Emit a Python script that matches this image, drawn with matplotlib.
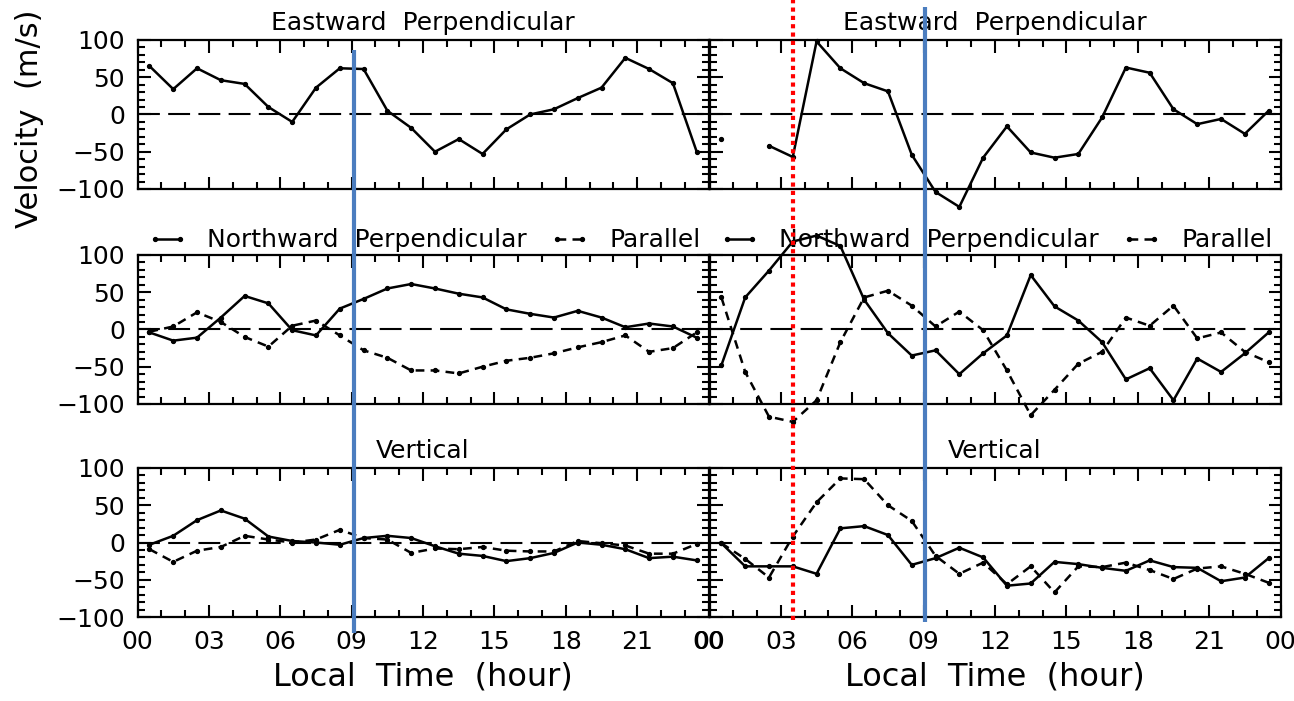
import numpy as np
import matplotlib
matplotlib.use('Agg')
from matplotlib import pyplot as plt, ticker, transforms
from matplotlib.lines import Line2D

plt.rcParams.update({'font.family': 'DejaVu Sans', 'axes.linewidth': 1.6,
                     'axes.titlesize': 18})

# Середини годинних інтервалів, год.
hours = np.arange(0.5, 24, 1.0)
nan = np.nan

# Eastward perpendicular
east_left = [65, 34, 62, 46, 41, 10, -10, 36, 62, 61, 5, -18,
             -50, -33, -53, -20, 0, 7, 22, 36, 76, 61, 42, -50]
east_right = [-33, nan, -42, -57, 98, 62, 42, 31, -54, -104, -124, -58,
              -16, -51, -58, -53, -4, 63, 56, 7, -13, -6, -26, 5]

# Northward perpendicular (solid) and parallel (dashed)
north_left = [-4, -15, -11, 16, 45, 35, -1, -8, 28, 41, 55, 61,
              55, 48, 43, 27, 21, 16, 25, 16, 3, 8, 4, -11]
par_left = [-3, 4, 23, 10, -10, -23, 5, 12, -8, -28, -38, -55,
            -55, -59, -50, -42, -38, -32, -24, -17, -8, -30, -25, -4]
north_right = [-48, 43, 79, 118, 126, 112, 40, -5, -35, -28, -60, -32,
               -8, 73, 31, 12, -17, -67, -52, -95, -39, -57, -32, -4]
par_right = [43, -57, -117, -124, -95, -17, 43, 52, 32, 4, 24, -1,
             -55, -115, -81, -46, -30, 16, 5, 32, -12, -4, -30, -44]

# Vertical (solid and dashed)
vert_left = [-3, 9, 30, 43, 32, 8, 2, 0, -3, 6, 9, 6,
             -5, -15, -18, -25, -21, -14, 0, -3, -9, -21, -19, -24]
vdash_left = [-9, -26, -11, -6, 9, 4, 0, 4, 17, 6, 4, -14,
              -8, -9, -6, -11, -12, -12, 2, -1, -4, -15, -15, -2]
vert_right = [-1, -32, -32, -32, -42, 19, 22, 10, -30, -21, -7, -20,
              -58, -55, -26, -29, -34, -38, -24, -33, -34, -52, -47, -21]
vdash_right = [-1, -22, -47, 8, 54, 86, 85, 50, 29, -18, -42, -27,
               -56, -32, -67, -32, -33, -27, -37, -49, -35, -32, -42, -54]

# Позначки часу: синя лінія (обидві панелі) та червона пунктирна (права)
blue_hours = [9.1, 9.05]
red_hour = 3.5

fig = plt.figure(figsize=(12.94, 7.01), dpi=100)
col_x = [0.1063, 0.5483]
col_w = 0.4413
row_y = [0.7304, 0.4237, 0.1198]
row_h = 0.2126

def style_axes(ax, show_y, show_x):
    ax.set_xlim(0, 24)
    ax.set_ylim(-100, 100)
    ax.set_facecolor('none')
    ax.xaxis.set_major_locator(ticker.MultipleLocator(3))
    ax.xaxis.set_minor_locator(ticker.MultipleLocator(1))
    ax.yaxis.set_major_locator(ticker.MultipleLocator(50))
    ax.yaxis.set_minor_locator(ticker.MultipleLocator(10))
    ax.xaxis.set_major_formatter(ticker.FuncFormatter(lambda v, p: '%02d' % (v % 24)))
    ax.tick_params(which='both', direction='in', top=True, right=True, width=1.5)
    ax.tick_params(which='major', length=9)
    ax.tick_params(which='minor', length=5)
    ax.tick_params(labelsize=18, pad=9, labelleft=show_y, labelbottom=show_x)
    ax.axhline(0, color='k', lw=1.5, dashes=(10.5, 4), zorder=1)

def draw(ax, vals, dashed=False):
    kw = dict(color='k', lw=1.8, marker='o', ms=2.8, clip_on=False)
    if dashed:
        kw['dashes'] = (3.5, 2.5)
    return ax.plot(hours, vals, **kw)[0]

axes = []
for col in range(2):
    ax1 = fig.add_axes([col_x[col], row_y[0], col_w, row_h])
    ax2 = fig.add_axes([col_x[col], row_y[1], col_w, row_h])
    ax3 = fig.add_axes([col_x[col], row_y[2], col_w, row_h])
    for ax, sx in ((ax1, False), (ax2, False), (ax3, True)):
        style_axes(ax, col == 0, sx)
    axes.append((ax1, ax2, ax3))

    draw(ax1, (east_left, east_right)[col])
    ax1.set_title('Eastward  Perpendicular', pad=7)

    h1 = draw(ax2, (north_left, north_right)[col])
    h2 = draw(ax2, (par_left, par_right)[col], dashed=True)
    ax2.legend([h1, h2], ['Northward  Perpendicular', 'Parallel'], ncol=2,
               loc='lower left', bbox_to_anchor=(0.013, 1.0), frameon=False,
               borderaxespad=0.1, borderpad=0, numpoints=2, fontsize=18,
               handlelength=1.6, handletextpad=0.8, columnspacing=0.9)

    draw(ax3, (vert_left, vert_right)[col])
    draw(ax3, (vdash_left, vdash_right)[col], dashed=True)
    ax3.set_title('Vertical', pad=7)
    ax3.set_xlabel('Local  Time  (hour)', fontsize=23, labelpad=6)

fig.text(30 / 1294, 1 - 119 / 701, 'Velocity  (m/s)', rotation=90,
         ha='center', va='center', fontsize=22)

# Вертикальні позначки (в пікселях по висоті фігури)
H = 701.
spans = [(50, 633), (7, 622)]
for col in range(2):
    tr = transforms.blended_transform_factory(axes[col][0].transData, fig.transFigure)
    y0, y1 = spans[col]
    fig.add_artist(Line2D([blue_hours[col]] * 2, [1 - y1 / H, 1 - y0 / H], transform=tr,
                          color='#4B7DBF', lw=3, solid_capstyle='butt', zorder=5))
tr = transforms.blended_transform_factory(axes[1][0].transData, fig.transFigure)
fig.add_artist(Line2D([red_hour] * 2, [1 - 620 / H, 1.0], transform=tr, color='red',
                      lw=3, ls=(0, (1, 1)), zorder=5))

fig.savefig('out.png', dpi=100)
